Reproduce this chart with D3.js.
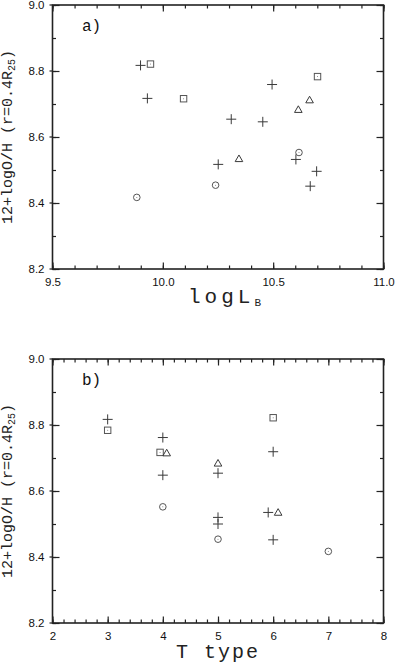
<!DOCTYPE html>
<html><head><meta charset="utf-8">
<script src="https://cdn.jsdelivr.net/npm/d3@7"></script>
<style>
html,body{margin:0;padding:0;background:#fff;}
svg{display:block;}
.tick text{font-family:"Liberation Sans",Arial,sans-serif;font-size:11.5px;fill:#111;}
</style></head>
<body><svg id="c" width="397" height="667"></svg>
<script>
// ---- data ----
const yTicks = [8.2, 8.4, 8.6, 8.8, 9.0];
const xTicksA = [9.5, 10.0, 10.5, 11.0];
const xTicksB = [2, 3, 4, 5, 6, 7, 8];

const logL_plus = [9.899, 9.930, 10.495, 10.310, 10.453, 10.603, 10.251, 10.697, 10.668];
const oh_a_plus = [8.817, 8.717, 8.759, 8.654, 8.646, 8.532, 8.517, 8.496, 8.451];
const logL_square = [9.944, 10.094, 10.701];
const oh_a_square = [8.821, 8.716, 8.783];
const logL_triangle = [10.665, 10.614, 10.345];
const oh_a_triangle = [8.712, 8.683, 8.534];
const logL_circle = [10.617, 10.239, 9.882];
const oh_a_circle = [8.553, 8.454, 8.417];

const T_plus = [3, 4, 4, 6, 5, 5, 5, 5.91, 6];
const oh_b_plus = [8.817, 8.762, 8.648, 8.719, 8.654, 8.520, 8.500, 8.535, 8.452];
const T_square = [3, 3.95, 6];
const oh_b_square = [8.784, 8.717, 8.822];
const T_triangle = [4.07, 5, 6.09];
const oh_b_triangle = [8.715, 8.684, 8.535];
const T_circle = [4, 5, 7];
const oh_b_circle = [8.552, 8.454, 8.417];

const svg = d3.select("#c");
svg.append("rect").attr("width",397).attr("height",667).attr("fill","#fff");

const L = 52.5, R = 383.5;
const mono = '"Liberation Mono","DejaVu Sans Mono",monospace';
const mk = "#3a3a3a";

function panel(cfg){
  const x = d3.scaleLinear().domain(cfg.xdom).range([L, R]);
  const y = d3.scaleLinear().domain([8.2, 9.0]).range([cfg.bottom, cfg.top]);
  const g = svg.append("g");
  const minorY = d3.range(8.2, 9.001, 0.1).map(v => +v.toFixed(2));
  const minorX = d3.range(cfg.xdom[0], cfg.xdom[1] + 1e-6, cfg.minorStep).map(v => +v.toFixed(3));

  function axisDraw(axis, tr){
    const a = g.append("g").attr("transform", tr).call(axis);
    a.select(".domain").remove();
    a.selectAll(".tick line").attr("stroke","#222").attr("stroke-width",1.2);
    return a;
  }
  // minor ticks
  axisDraw(d3.axisBottom(x).tickValues(minorX).tickSize(-3.5).tickFormat(""), `translate(0,${cfg.bottom})`);
  axisDraw(d3.axisTop(x).tickValues(minorX).tickSize(-3.5).tickFormat(""), `translate(0,${cfg.top})`);
  axisDraw(d3.axisLeft(y).tickValues(minorY).tickSize(-3.5).tickFormat(""), `translate(${L},0)`);
  axisDraw(d3.axisRight(y).tickValues(minorY).tickSize(-3.5).tickFormat(""), `translate(${R},0)`);
  // major ticks
  axisDraw(d3.axisBottom(x).tickValues(cfg.xticks).tickSize(-6.5).tickPadding(9).tickFormat(cfg.xfmt), `translate(0,${cfg.bottom})`);
  axisDraw(d3.axisTop(x).tickValues(cfg.xticks).tickSize(-6.5).tickFormat(""), `translate(0,${cfg.top})`);
  axisDraw(d3.axisLeft(y).tickValues(yTicks).tickSize(-7).tickPadding(8).tickFormat(d3.format(".1f")), `translate(${L},0)`);
  axisDraw(d3.axisRight(y).tickValues(yTicks).tickSize(-7).tickFormat(""), `translate(${R},0)`);
  // small outward stub on left major ticks
  g.selectAll(".stub").data(yTicks).join("line")
    .attr("x1", L-3).attr("x2", L).attr("y1", d=>y(d)).attr("y2", d=>y(d))
    .attr("stroke","#222").attr("stroke-width",1.2);

  // frame
  g.append("rect").attr("x",L).attr("y",cfg.top).attr("width",R-L).attr("height",cfg.bottom-cfg.top)
    .attr("fill","none").attr("stroke","#222").attr("stroke-width",1.6);

  // markers
  const zip = (a,b) => a.map((v,i)=>[v,b[i]]);
  const pts = g.append("g").attr("fill","none").attr("stroke",mk).attr("stroke-width",1);
  pts.selectAll(".p").data(zip(cfg.plus[0], cfg.plus[1])).join("path")
    .attr("transform", d=>`translate(${x(d[0])},${y(d[1])})`).attr("d","M-5,0H5M0,-5V5");
  const sq = pts.selectAll(".s").data(zip(cfg.square[0], cfg.square[1])).join("g")
    .attr("transform", d=>`translate(${x(d[0])},${y(d[1])})`);
  sq.append("rect").attr("x",-3.2).attr("y",-3.2).attr("width",6.4).attr("height",6.4).attr("stroke","#555");
  sq.append("circle").attr("r",0.5).attr("fill","#777").attr("stroke","none");
  pts.selectAll(".t").data(zip(cfg.tri[0], cfg.tri[1])).join("path")
    .attr("transform", d=>`translate(${x(d[0])},${y(d[1])})`).attr("d","M0,-3.8L3.8,2.8L-3.8,2.8Z");
  const ci = pts.selectAll(".c").data(zip(cfg.circ[0], cfg.circ[1])).join("g")
    .attr("transform", d=>`translate(${x(d[0])},${y(d[1])})`);
  ci.append("circle").attr("r",3.3).attr("stroke","#555");
  ci.append("circle").attr("r",0.5).attr("fill","#777").attr("stroke","none");

  // panel label
  g.append("text").attr("x",82).attr("y",cfg.top+26).attr("font-family",mono).attr("font-size",16)
    .attr("fill","#111").text(cfg.tag);

  // y label
  const yl = g.append("text").attr("transform",`translate(12,${(cfg.top+cfg.bottom)/2}) rotate(-90)`)
    .attr("text-anchor","middle").attr("font-family",mono).attr("font-size",15).attr("fill","#222");
  yl.append("tspan").text("12+logO/H (r=0.4R");
  yl.append("tspan").attr("font-size",10).attr("dy",3).text("25");
  yl.append("tspan").attr("dy",-3).text(")");
  return {x, y, g};
}

const pa = panel({xdom:[9.5, 11.0], top:5, bottom:269, xticks:xTicksA, minorStep:0.1, xfmt:d3.format(".1f"),
  plus:[logL_plus, oh_a_plus], square:[logL_square, oh_a_square], tri:[logL_triangle, oh_a_triangle], circ:[logL_circle, oh_a_circle], tag:"a)"});
const pb = panel({xdom:[2, 8], top:359, bottom:623, xticks:xTicksB, minorStep:0.2, xfmt:d3.format("d"),
  plus:[T_plus, oh_b_plus], square:[T_square, oh_b_square], tri:[T_triangle, oh_b_triangle], circ:[T_circle, oh_b_circle], tag:"b)"});

// x labels
const xl = svg.append("text").attr("x",188).attr("y",303).attr("font-family",mono).attr("font-size",21)
  .attr("letter-spacing",4).attr("fill","#222");
xl.append("tspan").text("logL");
xl.append("tspan").attr("font-size",11).attr("dy",3).attr("letter-spacing",0).text("B");

svg.append("text").attr("x",218).attr("y",658).attr("text-anchor","middle").attr("font-family",mono)
  .attr("font-size",20).attr("letter-spacing",2).attr("fill","#222").text("T type");
</script></body></html>
